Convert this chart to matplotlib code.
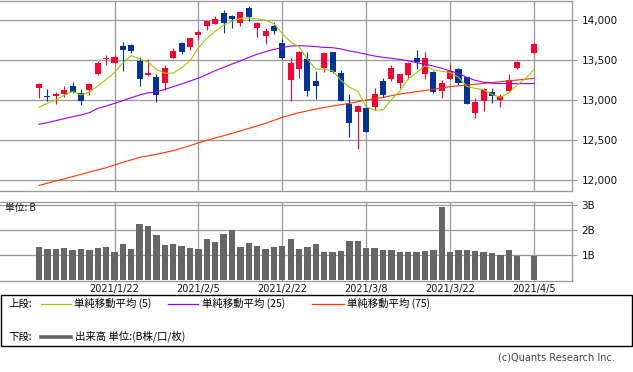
import numpy as np
import matplotlib
matplotlib.use("Agg")
import matplotlib.pyplot as plt
from matplotlib.patches import Rectangle
from matplotlib.lines import Line2D

# ---------------- data ----------------
date_labels = ["2021/1/22", "2021/2/5", "2021/2/22", "2021/3/8", "2021/3/22", "2021/4/5"]
label_idx = [9, 19, 29, 39, 49, 59]

N = np.nan
opens = [13150, 13050, 13054, 13075, 13175, 13092, 13125, 13325, 13513, 13463,
         13675, 13688, 13488, 13313, 13288, 13213, 13525, 13713, 13667, 13813,
         13925, 13950, 14088, 14050, 13963, 14150, 13900, 13800, 13925, 13713,
         13250, 13388, 13513, 13238, 13400, 13600, 13338, 12950, 12850, 12900,
         12913, 13238, 13263, 13213, 13313, 13525, 13325, 13350, 13113, 13263,
         13388, 13288, 12838, 12988, 13100, 13000, 13113, 13400, N, 13592]
highs = [13208, 13138, 13100, 13175, 13225, 13138, 13212, 13488, 13567, 13563,
         13725, 13704, 13533, 13513, 13325, 13438, 13650, 13725, 13775, 13875,
         13988, 14050, 14125, 14063, 14100, 14175, 13975, 13900, 13975, 13763,
         13525, 13613, 13600, 13363, 13600, 13600, 13375, 13075, 12938, 12913,
         13150, 13275, 13438, 13325, 13475, 13625, 13600, 13363, 13250, 13450,
         13400, 13288, 13025, 13150, 13150, 13075, 13325, 13488, N, 13725]
lows = [13025, 12992, 12950, 13042, 13083, 12942, 13062, 13312, 13438, 13463,
        13367, 13592, 13175, 13300, 12979, 13125, 13525, 13579, 13625, 13750,
        13875, 13950, 13838, 13900, 13925, 13988, 13788, 13700, 13825, 13513,
        12988, 13275, 13050, 13013, 13350, 13338, 12988, 12538, 12388, 12600,
        12875, 13038, 13238, 13150, 13263, 13388, 13263, 13088, 13025, 13263,
        13188, 12950, 12775, 12863, 12963, 12913, 13113, 13388, N, 13579]
closes = [13200, 13033, 13075, 13125, 13100, 12992, 13200, 13463, 13529, 13538,
          13625, 13613, 13263, 13342, 13063, 13400, 13613, 13604, 13775, 13850,
          13988, 14013, 13963, 14017, 14100, 14042, 13963, 13863, 13863, 13525,
          13463, 13600, 13113, 13175, 13588, 13350, 12988, 12713, 12925, 12600,
          13075, 13063, 13400, 13325, 13463, 13475, 13525, 13100, 13213, 13363,
          13213, 12950, 12975, 13138, 13050, 13050, 13250, 13475, N, 13700]

ma5 = [12908, 12960, 13000, 13060, 13107, 13065, 13098, 13176, 13257, 13344,
       13465, 13555, 13514, 13474, 13380, 13336, 13336, 13404, 13491, 13655,
       13770, 13860, 13935, 13985, 14018, 14025, 14017, 13997, 13955, 13830,
       13725, 13665, 13510, 13385, 13388, 13365, 13245, 13160, 13110, 12915,
       12875, 12875, 13005, 13110, 13265, 13340, 13430, 13378, 13360, 13345,
       13285, 13170, 13145, 13130, 13070, 13033, 13090, 13190, 13270, 13380]
ma25 = [12696, 12717, 12742, 12767, 12792, 12813, 12842, 12896, 12925, 12958,
        12992, 13029, 13063, 13090, 13100, 13133, 13167, 13200, 13238, 13273,
        13318, 13367, 13408, 13450, 13488, 13533, 13571, 13604, 13633, 13654,
        13675, 13679, 13675, 13667, 13658, 13654, 13638, 13613, 13596, 13571,
        13550, 13533, 13521, 13508, 13490, 13467, 13446, 13425, 13396, 13363,
        13333, 13283, 13245, 13222, 13210, 13206, 13205, 13205, 13205, 13205]
ma75 = [11933, 11960, 11988, 12015, 12042, 12071, 12100, 12127, 12154, 12188,
        12221, 12252, 12283, 12302, 12321, 12344, 12367, 12398, 12429, 12465,
        12496, 12525, 12554, 12583, 12615, 12646, 12677, 12708, 12746, 12783,
        12813, 12842, 12865, 12888, 12907, 12925, 12942, 12958, 12979, 13000,
        13017, 13033, 13054, 13075, 13090, 13104, 13119, 13133, 13150, 13167,
        13178, 13188, 13198, 13208, 13219, 13229, 13240, 13250, 13260, 13271]

volume_b = [1.34, 1.26, 1.26, 1.30, 1.22, 1.26, 1.22, 1.30, 1.34, 1.14,
            1.46, 1.26, 2.25, 2.17, 1.82, 1.42, 1.46, 1.38, 1.30, 1.26,
            1.66, 1.54, 1.86, 2.01, 1.34, 1.50, 1.38, 1.26, 1.34, 1.38,
            1.66, 1.26, 1.34, 1.46, 1.11, 1.11, 1.18, 1.58, 1.58, 1.30,
            1.30, 1.22, 1.22, 1.11, 1.14, 1.11, 1.18, 1.22, 2.92, 1.14,
            1.22, 1.22, 1.18, 1.14, 1.07, 0.99, 1.22, 0.95, N, 0.95]

price_ticks = [12000, 12500, 13000, 13500, 14000]
vol_ticks = [1, 2, 3]
vol_tick_labels = ["1B", "2B", "3B"]

# ---------------- styling ----------------
W, H = 633, 372
fig = plt.figure(figsize=(W / 100, H / 100), dpi=100)
fig.patch.set_facecolor("white")

def rect(x0, y0, x1, y1):
    return [x0 / W, 1 - y1 / H, (x1 - x0) / W, (y1 - y0) / H]

def fxy(x, y):
    return x / W, 1 - y / H

GRID = "#999999"
UP = "#FF0033"
DOWN = "#003399"
JP = ["Noto Sans CJK JP", "DejaVu Sans"]

x = np.arange(len(closes))
o = np.array(opens, float); h = np.array(highs, float)
l = np.array(lows, float); c = np.array(closes, float)
XL = (-4.65, 63.47)

# ---------------- price panel ----------------
ax = fig.add_axes(rect(0, 0.5, 571.5, 190.5))
ax.set_xlim(*XL)
ax.set_ylim(11869, 14244)
for s in ["top", "right", "bottom"]:
    ax.spines[s].set_color(GRID); ax.spines[s].set_linewidth(0.9)
ax.spines["left"].set_visible(False)
ax.set_yticks(price_ticks)
ax.set_yticklabels([f"{v:,}" for v in price_ticks])
ax.yaxis.tick_right()
ax.tick_params(axis="y", length=3.6, width=0.8, color=GRID, pad=3.5,
               labelsize=7.5, labelcolor="#111111")
ax.set_xticks(label_idx)
ax.tick_params(axis="x", length=0, labelbottom=False)
ax.grid(True, color=GRID, linewidth=0.9)
ax.set_axisbelow(True)

valid = ~np.isnan(c)
up = valid & (c >= o)
dn = valid & (c < o)
for mask, col in [(up, UP), (dn, DOWN)]:
    ax.vlines(x[mask], l[mask], h[mask], color=col, linewidth=0.8, zorder=3)
    body_lo = np.minimum(o[mask], c[mask])
    body_h = np.maximum(np.abs(c[mask] - o[mask]), 12)
    ax.bar(x[mask], body_h, bottom=body_lo, width=0.72, color=col,
           linewidth=0, zorder=4)

ax.plot(x, ma75, color="#FF3300", linewidth=0.8, zorder=5)
ax.plot(x, ma25, color="#9900FF", linewidth=0.8, zorder=5)
ax.plot(x, ma5, color="#99CC00", linewidth=0.8, zorder=5)

# ---------------- volume panel ----------------
av = fig.add_axes(rect(0, 201.5, 571.5, 280.5))
av.set_xlim(*XL)
av.set_ylim(-0.02, 3.15)
for s in ["top", "right", "bottom"]:
    av.spines[s].set_color(GRID); av.spines[s].set_linewidth(0.9)
av.spines["left"].set_visible(False)
av.set_yticks(vol_ticks)
av.set_yticklabels(vol_tick_labels)
av.yaxis.tick_right()
av.tick_params(axis="y", length=3.6, width=0.8, color=GRID, pad=3.5,
               labelsize=7.5, labelcolor="#111111")
av.set_xticks(label_idx)
av.set_xticklabels(date_labels)
av.tick_params(axis="x", length=0, pad=2.5, labelsize=7, labelcolor="#111111")
av.grid(True, color=GRID, linewidth=0.9)
av.set_axisbelow(True)
vb = np.array(volume_b, float)
vm = ~np.isnan(vb)
av.bar(x[vm], vb[vm], width=0.76, color="#666666", linewidth=0, zorder=3)

fig.text(*fxy(5, 208.5), "単位: B", family=JP, fontsize=7, va="center",
         ha="left", color="#111111")

# ---------------- legend box ----------------
fig.add_artist(Rectangle(fxy(0.5, 346), 631 / W, 51 / H, transform=fig.transFigure,
                         facecolor="none", edgecolor="black", linewidth=1.0))
row1, row2 = 303.5, 336.5
fig.text(*fxy(8, row1), "上段:", family=JP, fontsize=7.5, va="center", ha="left")
fig.text(*fxy(8, row2), "下段:", family=JP, fontsize=7.5, va="center", ha="left")
legend_items = [(41, 71, "#99CC00", "単純移動平均 (5)", 74),
                (168, 198, "#9900FF", "単純移動平均 (25)", 202),
                (312, 344, "#FF3300", "単純移動平均 (75)", 347)]
for x0, x1, col, lab, tx in legend_items:
    fig.add_artist(Line2D([x0 / W, x1 / W], [1 - row1 / H] * 2,
                          transform=fig.transFigure, color=col, linewidth=0.9))
    fig.text(*fxy(tx, row1), lab, family=JP, fontsize=7.5, va="center", ha="left")
fig.add_artist(Line2D([41 / W, 71 / W], [1 - row2 / H] * 2,
                      transform=fig.transFigure, color="#666666", linewidth=2.6))
fig.text(*fxy(75, row2), "出来高 単位:(B株/口/枚)", family=JP, fontsize=7.5,
         va="center", ha="left")

fig.text(*fxy(615, 357), "(c)Quants Research Inc.", fontsize=7, va="center",
         ha="right", color="#444444")

fig.savefig("out.png", dpi=100)
